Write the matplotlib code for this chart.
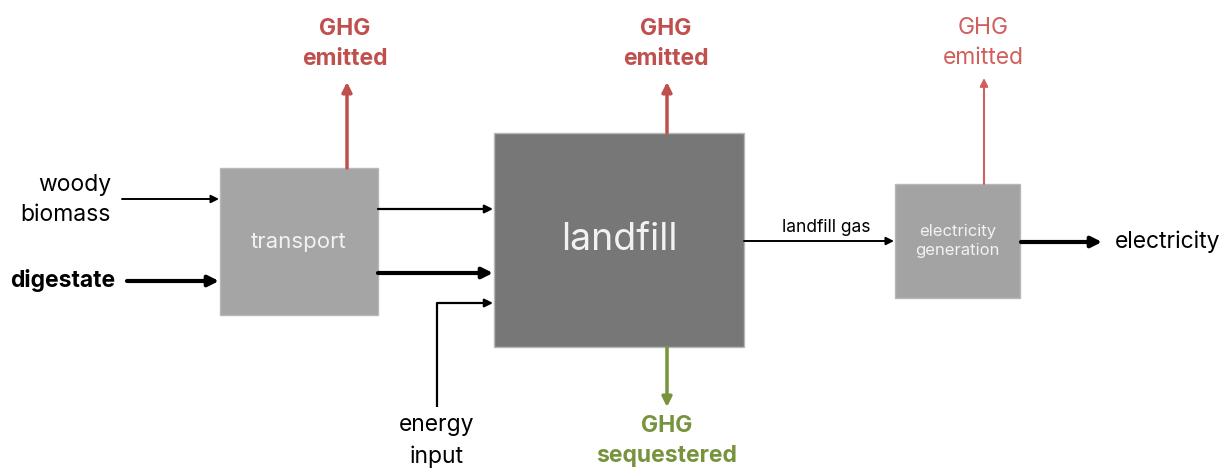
import matplotlib.pyplot as plt
from matplotlib.patches import Rectangle, FancyArrowPatch

plt.rcParams['font.family'] = ['Inter', 'DejaVu Sans']

# boxes: name, x0, y0, x1, y1 (pixel coords, y down), face colour, text size
box_names = ['transport', 'landfill', 'electricity\ngeneration']
box_x0 = [220, 494, 895]
box_y0 = [168, 133, 184]
box_x1 = [378, 744, 1020]
box_y1 = [315, 347, 298]
box_colors = ['#a5a5a5', '#777777', '#a3a3a3']
box_fs = [16, 27, 12]

# arrows: start, end, colour, width
arrow_start = [(122, 199), (127, 281), (378, 209), (378, 273), (437, 303),
               (744, 241), (1021, 242), (347, 168), (667, 133), (984, 184),
               (667, 347)]
arrow_end = [(219, 199), (219, 281), (493, 209), (493, 273), (493, 303),
             (894, 241), (1102, 242), (347, 82), (667, 82), (984, 78),
             (667, 407)]
arrow_colors = ['black', 'black', 'black', 'black', 'black',
                'black', 'black', '#c0504d', '#c0504d', '#d0605d', '#77933c']
arrow_lw = [1.4, 3, 1.6, 3, 1.6, 1.4, 3, 2.5, 2.5, 1.5, 2.5]

# labels: text, x, y, ha, colour, weight, size
labels = ['woody\nbiomass', 'digestate', 'energy\ninput', 'landfill gas', 'electricity',
          'GHG\nemitted', 'GHG\nemitted', 'GHG\nemitted', 'GHG\nsequestered']
label_x = [111, 115, 437, 826, 1115, 345, 666, 983, 667]
label_y = [200, 281, 441, 227, 242, 44, 44, 43, 441]
label_ha = ['right', 'right', 'center', 'center', 'left',
            'center', 'center', 'center', 'center']
label_colors = ['black', 'black', 'black', 'black', 'black',
                '#c0504d', '#c0504d', '#d0605d', '#77933c']
label_weight = ['normal', 'bold', 'normal', 'normal', 'normal',
                'bold', 'bold', 'normal', 'bold']
label_fs = [16.5, 16.5, 16.5, 12.5, 16.5, 16.5, 16.5, 16.5, 16.5]

fig = plt.figure(figsize=(12.28, 4.69), dpi=100)
ax = fig.add_axes([0, 0, 1, 1])
ax.set_xlim(0, 1228)
ax.set_ylim(469, 0)
ax.axis('off')

for name, x0, y0, x1, y1, c, fs in zip(box_names, box_x0, box_y0, box_x1, box_y1, box_colors, box_fs):
    ax.add_patch(Rectangle((x0, y0), x1 - x0, y1 - y0, facecolor=c, edgecolor='#b8b8b8', lw=1, zorder=1))
    ax.text((x0 + x1) / 2, (y0 + y1) / 2, name, ha='center', va='center', color='#f2f2f2',
            fontsize=fs, linespacing=1.3, zorder=3)

# elbow line for energy input
ax.plot([437, 437], [407, 303], color='black', lw=1.6, solid_capstyle='butt', zorder=2)

for s, e, c, lw in zip(arrow_start, arrow_end, arrow_colors, arrow_lw):
    ms = 8 + lw * 2.5
    ax.add_patch(FancyArrowPatch(s, e, arrowstyle='-|>', mutation_scale=ms, color=c, lw=lw,
                                 shrinkA=0, shrinkB=0, zorder=2))

for t, x, y, ha, c, w, fs in zip(labels, label_x, label_y, label_ha, label_colors, label_weight, label_fs):
    ax.text(x, y, t, ha=ha, va='center', color=c, fontweight=w, fontsize=fs, linespacing=1.5)

fig.savefig('out.png', dpi=100)
